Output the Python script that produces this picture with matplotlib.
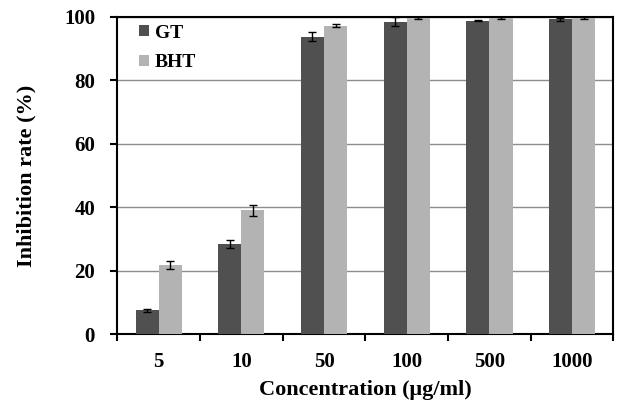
import numpy as np
import matplotlib.pyplot as plt

plt.rcParams['font.family'] = ['Liberation Serif', 'DejaVu Serif']
plt.rcParams['font.weight'] = 'bold'

concentrations = ['5', '10', '50', '100', '500', '1000']
gt_mean = [7.5, 28.4, 93.8, 98.5, 98.8, 99.2]
gt_err = [0.5, 1.3, 1.3, 1.5, 0.2, 0.5]
bht_mean = [21.7, 39.0, 97.2, 99.7, 99.7, 99.8]
bht_err = [1.3, 1.8, 0.5, 0.4, 0.4, 0.3]

fig = plt.figure(figsize=(6.24, 4.03), dpi=100)
ax = fig.add_axes([0.188, 0.171, 0.795, 0.787])

x = np.arange(len(concentrations))
w = 0.28
ax.bar(x - w / 2, gt_mean, w, yerr=gt_err, color='#505050', label='GT',
       error_kw=dict(ecolor='black', elinewidth=1, capsize=3, capthick=1), zorder=3)
ax.bar(x + w / 2, bht_mean, w, yerr=bht_err, color='#b3b3b3', label='BHT',
       error_kw=dict(ecolor='black', elinewidth=1, capsize=3, capthick=1), zorder=3)

ax.set_xlim(-0.5, len(concentrations) - 0.5)
ax.set_ylim(0, 100)
ax.set_yticks([0, 20, 40, 60, 80, 100])
ax.yaxis.grid(True, color='#8c8c8c', linewidth=1, zorder=0)

# category separators as ticks, labels centred below each group
ax.set_xticks(np.arange(-0.5, len(concentrations)), minor=False)
ax.set_xticklabels([])
ax.set_xticks(x, minor=True)
ax.set_xticklabels(concentrations, minor=True)
ax.tick_params(axis='x', which='minor', length=0, pad=13, labelsize=15)
ax.tick_params(axis='x', which='major', direction='out', length=5, width=1.5)
ax.tick_params(axis='y', direction='out', length=5, width=1.5, labelsize=15, pad=11)

for s in ax.spines.values():
    s.set_linewidth(1.5)

ax.set_xlabel('Concentration (μg/ml)', fontsize=16, fontweight='bold', labelpad=6)
ax.set_ylabel('Inhibition rate (%)', fontsize=16, fontweight='bold', labelpad=20)

ax.legend(loc='upper left', frameon=False, fontsize=14, handlelength=0.5,
          handleheight=0.5, handletextpad=0.3, labelspacing=0.65,
          borderaxespad=0, borderpad=0, bbox_to_anchor=(0.044, 0.975))

fig.savefig('out.png', dpi=100)
